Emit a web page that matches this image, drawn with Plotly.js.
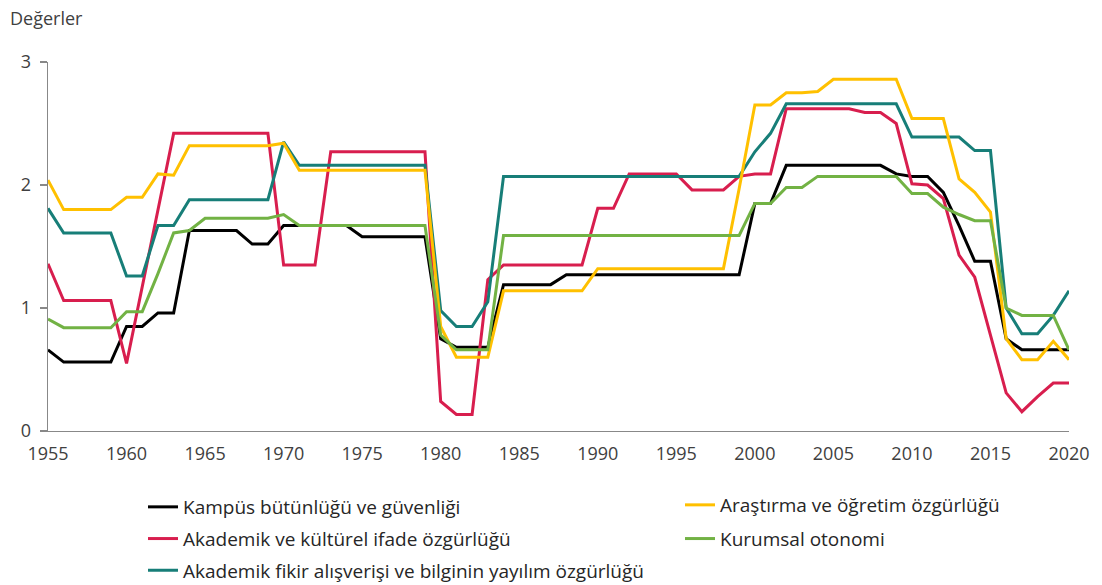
<!DOCTYPE html>
<html>
<head>
<meta charset="utf-8">
<script src="https://cdn.plot.ly/plotly-3.0.1.min.js"></script>
<style>html,body{margin:0;padding:0;background:#fff;}#chart{width:1102px;height:585px;}</style>
</head>
<body>
<div id="chart"></div>
<script>
const years = [1955,1956,1957,1958,1959,1960,1961,1962,1963,1964,
  1965,1966,1967,1968,1969,1970,1971,1972,1973,1974,
  1975,1976,1977,1978,1979,1980,1981,1982,1983,1984,
  1985,1986,1987,1988,1989,1990,1991,1992,1993,1994,
  1995,1996,1997,1998,1999,2000,2001,2002,2003,2004,
  2005,2006,2007,2008,2009,2010,2011,2012,2013,2014,
  2015,2016,2017,2018,2019,2020];

const kampus = [0.66,0.56,0.56,0.56,0.56,0.85,0.85,0.96,0.96,1.63,
  1.63,1.63,1.63,1.52,1.52,1.67,1.67,1.67,1.67,1.67,
  1.58,1.58,1.58,1.58,1.58,0.75,0.68,0.68,0.68,1.19,
  1.19,1.19,1.19,1.27,1.27,1.27,1.27,1.27,1.27,1.27,
  1.27,1.27,1.27,1.27,1.27,1.85,1.85,2.16,2.16,2.16,
  2.16,2.16,2.16,2.16,2.09,2.07,2.07,1.94,1.67,1.38,
  1.38,0.75,0.66,0.66,0.66,0.66];

const ifade = [1.36,1.06,1.06,1.06,1.06,0.55,1.17,1.79,2.42,2.42,
  2.42,2.42,2.42,2.42,2.42,1.35,1.35,1.35,2.27,2.27,
  2.27,2.27,2.27,2.27,2.27,0.24,0.135,0.135,1.23,1.35,
  1.35,1.35,1.35,1.35,1.35,1.81,1.81,2.09,2.09,2.09,
  2.09,1.96,1.96,1.96,2.07,2.09,2.09,2.62,2.62,2.62,
  2.62,2.62,2.59,2.59,2.50,2.01,2.00,1.89,1.43,1.25,
  0.78,0.31,0.157,0.28,0.39,0.39];

const fikir = [1.81,1.61,1.61,1.61,1.61,1.26,1.26,1.67,1.67,1.88,
  1.88,1.88,1.88,1.88,1.88,2.35,2.16,2.16,2.16,2.16,
  2.16,2.16,2.16,2.16,2.16,0.98,0.85,0.85,1.05,2.07,
  2.07,2.07,2.07,2.07,2.07,2.07,2.07,2.07,2.07,2.07,
  2.07,2.07,2.07,2.07,2.07,2.27,2.42,2.66,2.66,2.66,
  2.66,2.66,2.66,2.66,2.66,2.39,2.39,2.39,2.39,2.28,
  2.28,1.00,0.79,0.79,0.94,1.14];

const arastirma = [2.04,1.80,1.80,1.80,1.80,1.90,1.90,2.09,2.08,2.32,
  2.32,2.32,2.32,2.32,2.32,2.34,2.12,2.12,2.12,2.12,
  2.12,2.12,2.12,2.12,2.12,0.85,0.60,0.60,0.60,1.14,
  1.14,1.14,1.14,1.14,1.14,1.32,1.32,1.32,1.32,1.32,
  1.32,1.32,1.32,1.32,1.97,2.65,2.65,2.75,2.75,2.76,
  2.86,2.86,2.86,2.86,2.86,2.54,2.54,2.54,2.05,1.94,
  1.78,0.75,0.58,0.58,0.73,0.58];

const kurumsal = [0.91,0.84,0.84,0.84,0.84,0.97,0.97,1.28,1.61,1.63,
  1.73,1.73,1.73,1.73,1.73,1.76,1.67,1.67,1.67,1.67,
  1.67,1.67,1.67,1.67,1.67,0.78,0.66,0.66,0.66,1.59,
  1.59,1.59,1.59,1.59,1.59,1.59,1.59,1.59,1.59,1.59,
  1.59,1.59,1.59,1.59,1.59,1.85,1.85,1.98,1.98,2.07,
  2.07,2.07,2.07,2.07,2.07,1.93,1.93,1.82,1.76,1.71,
  1.71,1.00,0.94,0.94,0.94,0.66];

const names = [
  "Kampüs bütünlüğü ve güvenliği",
  "Akademik ve kültürel ifade özgürlüğü",
  "Akademik fikir alışverişi ve bilginin yayılım özgürlüğü",
  "Araştırma ve öğretim özgürlüğü",
  "Kurumsal otonomi"
];
const yTickVals = [0,1,2,3];
const xTickVals = [1955,1960,1965,1970,1975,1980,1985,1990,1995,2000,2005,2010,2015,2020];
const yLabel = "Değerler";

const series = [kampus, ifade, fikir, arastirma, kurumsal];
const colors = ["#000000", "#D81E4E", "#177E78", "#FFC000", "#72B244"];
const legendIds = ["legend", "legend", "legend", "legend2", "legend2"];

const traces = series.map((vals, i) => ({
  type: "scatter",
  mode: "lines",
  x: years,
  y: vals,
  name: names[i],
  legend: legendIds[i],
  legendgroup: "g" + i,
  line: {color: colors[i], width: 3},
  hoverinfo: "x+y+name"
}));

const W = 1102, H = 585;
const M = {l: 48, r: 33, t: 62, b: 154, autoexpand: false};
const plotH = H - M.t - M.b, plotW = W - M.l - M.r;
const px2x = px => (px - M.l) / plotW;
const py2y = py => (H - M.b - py) / plotH;

const layout = {
  width: W, height: H,
  margin: M,
  paper_bgcolor: "#ffffff",
  plot_bgcolor: "#ffffff",
  font: {family: "Open Sans, sans-serif", size: 18, color: "#404040"},
  showlegend: true,
  xaxis: {
    range: [1955, 2020],
    tickvals: xTickVals,
    ticktext: xTickVals.map(String),
    showgrid: false, zeroline: false,
    showline: true, linecolor: "#888888", linewidth: 1.3,
    ticks: "", ticklabelstandoff: 6,
    automargin: false,
    tickfont: {size: 18, color: "#404040"}
  },
  yaxis: {
    range: [0, 3],
    tickvals: yTickVals,
    ticktext: yTickVals.map(String),
    showgrid: false, zeroline: false,
    showline: true, linecolor: "#888888", linewidth: 1.3,
    ticks: "outside", ticklen: 7, tickcolor: "#888888", tickwidth: 1.3,
    ticklabelstandoff: 5,
    automargin: false,
    tickfont: {size: 18, color: "#404040"}
  },
  legend: {
    xref: "paper", yref: "paper",
    x: px2x(143), y: py2y(488),
    xanchor: "left", yanchor: "top",
    orientation: "v",
    tracegroupgap: 4,
    font: {size: 19, color: "#262626"},
    bgcolor: "rgba(0,0,0,0)"
  },
  legend2: {
    xref: "paper", yref: "paper",
    x: px2x(680), y: py2y(486),
    xanchor: "left", yanchor: "top",
    orientation: "v",
    tracegroupgap: 6,
    font: {size: 19, color: "#262626"},
    bgcolor: "rgba(0,0,0,0)"
  },
  annotations: [{
    text: yLabel,
    xref: "paper", yref: "paper",
    x: px2x(8), y: py2y(18),
    xanchor: "left", yanchor: "middle",
    showarrow: false,
    font: {size: 18, color: "#404040"}
  }]
};

Plotly.newPlot("chart", traces, layout, {displayModeBar: false, staticPlot: true});
</script>
</body>
</html>
